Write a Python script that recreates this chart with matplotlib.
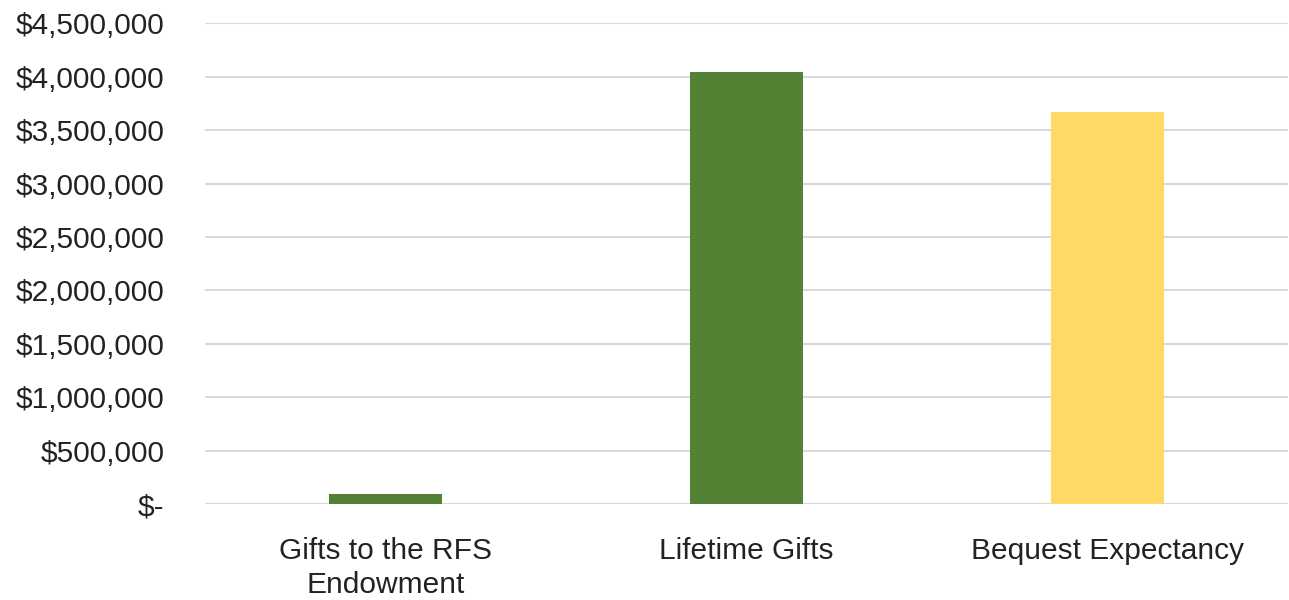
import matplotlib
matplotlib.use("Agg")
import matplotlib.pyplot as plt
from matplotlib.ticker import FuncFormatter

categories = ["Gifts to the RFS\nEndowment", "Lifetime Gifts", "Bequest Expectancy"]
values = [90000, 4040000, 3665000]
colors = ["#548235", "#548235", "#FFD966"]
y_ticks = [0, 500000, 1000000, 1500000, 2000000, 2500000, 3000000, 3500000, 4000000, 4500000]

plt.rcParams["font.family"] = ["Liberation Sans", "DejaVu Sans"]

fig = plt.figure(figsize=(12.89, 6.0), dpi=100)
ax = fig.add_axes([205 / 1289, 1 - 504 / 600, 1083 / 1289, (504 - 23.3) / 600])

x = range(len(categories))
ax.bar(x, values, width=0.315, color=colors, zorder=3)

ax.set_xlim(-0.5, 2.5)
ax.set_ylim(0, 4500000)
ax.set_yticks(y_ticks)


def dollar(v, pos):
    if v == 0:
        return "$-"
    return f"${v:,.0f}"


ax.yaxis.set_major_formatter(FuncFormatter(dollar))
ax.set_xticks(list(x))
ax.set_xticklabels(categories, linespacing=1.25)

ax.grid(axis="y", color="#D9D9D9", linewidth=1.5, zorder=0)
for s in ax.spines.values():
    s.set_visible(False)
ax.tick_params(axis="both", length=0, labelsize=21.5, colors="#222222")
ax.tick_params(axis="y", pad=29)
ax.tick_params(axis="x", pad=24)

fig.savefig("out.png", dpi=100)
